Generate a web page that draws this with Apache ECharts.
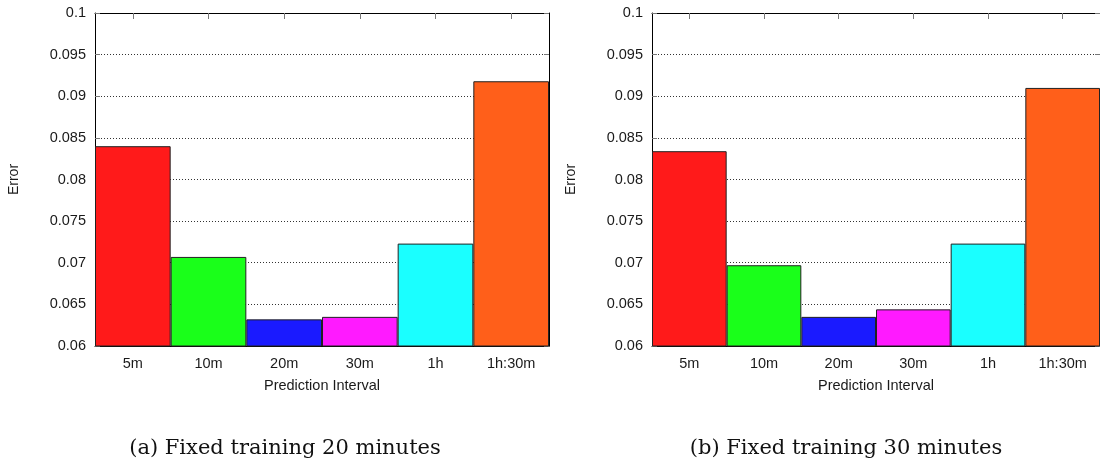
<!DOCTYPE html>
<html>
<head>
<meta charset="utf-8">
<script src="https://cdn.jsdelivr.net/npm/echarts@6/dist/echarts.min.js"></script>
<style>
html,body{margin:0;padding:0;background:#fff;}
#chart{width:1100px;height:467px;}
</style>
</head>
<body>
<div id="chart"></div>
<script>
const categories = ['5m', '10m', '20m', '30m', '1h', '1h:30m'];
const errors20 = [0.0840, 0.0707, 0.0632, 0.0635, 0.0723, 0.0918];
const errors30 = [0.0834, 0.0697, 0.0635, 0.0644, 0.0723, 0.0910];
const barColors = ['#ff1a1a', '#1aff1a', '#1a1aff', '#ff1aff', '#1affff', '#ff5f1a'];
const yMin = 0.06, yMax = 0.1, yStep = 0.005;
const captions = ['(a) Fixed training 20 minutes', '(b) Fixed training 30 minutes'];
const xName = 'Prediction Interval';
const yName = 'Error';

const FONT = '"Liberation Sans", Arial, sans-serif';
const txt = '#1a1a1a';
const grids = [
  {left: 95, top: 13, width: 454, height: 333},
  {left: 652, top: 13, width: 453, height: 333}
];

function bottomX(i) {
  return {
    type: 'category', gridIndex: i, data: categories, position: 'bottom',
    name: xName, nameLocation: 'middle', nameGap: 32,
    nameTextStyle: {fontFamily: FONT, fontSize: 14.5, color: txt},
    axisLine: {show: true, lineStyle: {color: '#000', width: 1}},
    axisTick: {show: false},
    axisLabel: {fontFamily: FONT, fontSize: 14.5, color: txt, margin: 10},
    splitLine: {show: false}
  };
}
function topX(i) {
  return {
    type: 'category', gridIndex: i, data: categories, position: 'top',
    axisLine: {show: true, lineStyle: {color: '#000', width: 1}},
    axisTick: {show: true, inside: true, alignWithLabel: true, length: 6, lineStyle: {color: '#777'}},
    axisLabel: {show: false},
    splitLine: {show: false}
  };
}
function leftY(i) {
  return {
    type: 'value', gridIndex: i, min: yMin, max: yMax, interval: yStep,
    name: yName, nameLocation: 'middle', nameGap: 74, nameRotate: 90,
    nameTextStyle: {fontFamily: FONT, fontSize: 14, color: txt},
    axisLine: {show: true, lineStyle: {color: '#000', width: 1}},
    axisTick: {show: true, inside: true, length: 5, lineStyle: {color: '#777'}},
    axisLabel: {fontFamily: FONT, fontSize: 14.5, color: txt, margin: 9,
      formatter: v => String(parseFloat(v.toFixed(3)))},
    splitLine: {show: true, lineStyle: {type: [1, 2], color: '#333', width: 1}}
  };
}
function rightY(i) {
  return {
    type: 'value', gridIndex: i, min: yMin, max: yMax, interval: yStep, position: 'right',
    axisLine: {show: true, lineStyle: {color: '#000', width: 1}},
    axisTick: {show: true, inside: true, length: 5, lineStyle: {color: '#777'}},
    axisLabel: {show: false},
    splitLine: {show: false}
  };
}
function barSeries(i, vals) {
  return {
    type: 'bar', xAxisIndex: i * 2, yAxisIndex: i * 2,
    barCategoryGap: '0%', barWidth: '100%',
    data: vals.map((v, k) => ({value: v, itemStyle: {color: barColors[k]}})),
    itemStyle: {borderColor: '#222', borderWidth: 1},
    emphasis: {disabled: true},
    z: 3
  };
}

const chart = echarts.init(document.getElementById('chart'), null, {renderer: 'canvas'});
chart.setOption({
  animation: false,
  grid: grids,
  xAxis: [bottomX(0), topX(0), bottomX(1), topX(1)],
  yAxis: [leftY(0), rightY(0), leftY(1), rightY(1)],
  series: [barSeries(0, errors20), barSeries(1, errors30)],
  graphic: [
    {type: 'text', x: 285, y: 449, style: {text: captions[0], fontFamily: '"DejaVu Serif", serif', fontSize: 21, fill: '#111', align: 'center', verticalAlign: 'middle'}},
    {type: 'text', x: 846, y: 449, style: {text: captions[1], fontFamily: '"DejaVu Serif", serif', fontSize: 21, fill: '#111', align: 'center', verticalAlign: 'middle'}}
  ]
});
</script>
</body>
</html>
